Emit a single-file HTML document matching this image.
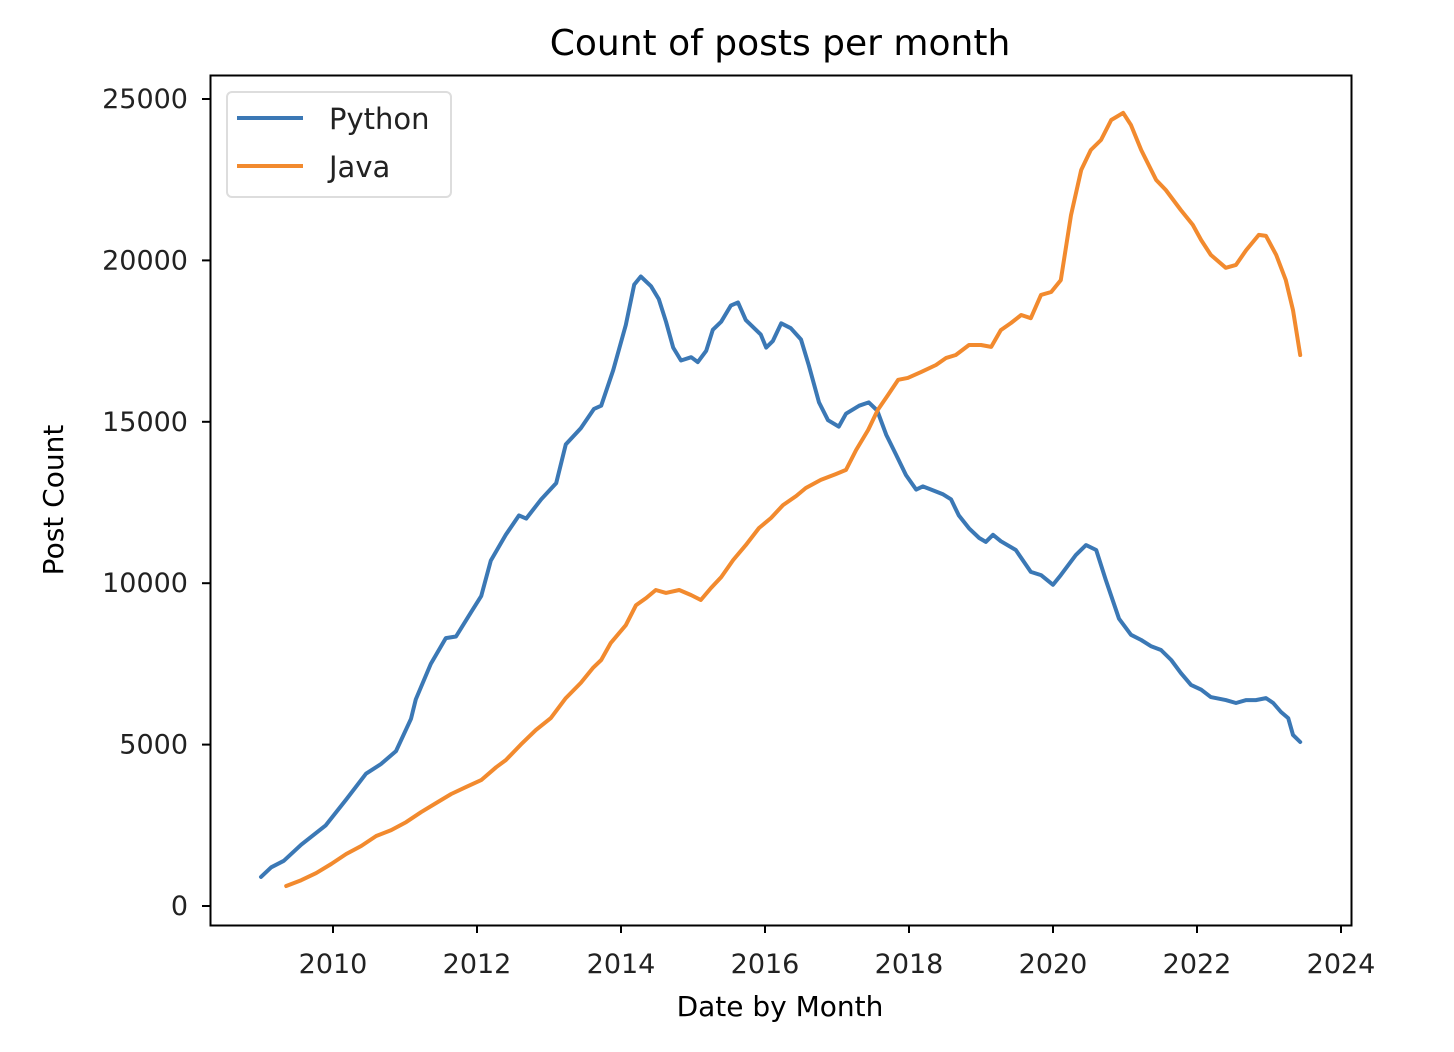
<!DOCTYPE html>
<html><head><meta charset="utf-8"><style>
html,body{margin:0;padding:0;background:#fff;}
svg{display:block;font-family:"DejaVu Sans","Liberation Sans",sans-serif;}
</style></head><body>
<svg id="chart" width="1454" height="1052" viewBox="0 0 1454 1052" xmlns="http://www.w3.org/2000/svg">
<text x="780" y="55" text-anchor="middle" font-size="36" fill="#000">Count of posts per month</text>
<g id="axes"></g>
<g id="series"></g>
<rect x="210.5" y="75.5" width="1141" height="850" fill="none" stroke="#000" stroke-width="2"/>
<text transform="translate(63,500) rotate(-90)" text-anchor="middle" font-size="28" fill="#000">Post Count</text>
<text x="780" y="1016" text-anchor="middle" font-size="28" fill="#000">Date by Month</text>
<g>
<rect x="227" y="92" width="224" height="105" rx="5" fill="#fff" stroke="#ddd" stroke-width="2"/>
<line x1="237" y1="118" x2="303" y2="118" stroke="#3b78b5" stroke-width="4"/>
<text x="329" y="129" font-size="29" fill="#222">Python</text>
<line x1="237" y1="166" x2="303" y2="166" stroke="#f28a2e" stroke-width="4"/>
<text x="329" y="177" font-size="29" fill="#222">Java</text>
</g>
</svg>
<script>
// months since Jan 2009
const pyMonths=[0,1.7,3.8,6.7,10.8,14.2,17.5,20,22.5,25,25.8,28.3,30.8,32.5,35,36.7,38.3,40.8,43,44.2,46.7,49.2,50.8,53.3,55.5,56.7,58.7,60.8,62.2,63.3,65,66.3,67.5,68.7,70,71.7,72.8,74.2,75.3,76.7,78.3,79.5,80.8,83.3,84.2,85.3,86.7,88.3,90,91.3,93,94.5,96.3,97.5,99.7,101.3,102.7,104.2,105.8,107.5,109.2,110.3,111.7,113.7,115,116.3,118,119.7,120.8,122,123.3,125.8,128.3,130,132,133.3,135.8,137.5,139.2,140.8,143,145,146.7,148.3,150,151.7,153.3,155,156.7,158.3,160.8,162.5,164.2,165.8,167.5,168.7,170,171.2,172,173.2];
const pyValues=[900,1200,1400,1900,2500,3300,4100,4400,4800,5800,6400,7500,8300,8350,9100,9600,10700,11500,12100,12000,12600,13100,14300,14800,15400,15500,16600,18000,19250,19500,19200,18800,18100,17300,16900,17000,16850,17200,17850,18100,18600,18700,18150,17700,17300,17500,18050,17900,17550,16750,15600,15050,14850,15250,15500,15600,15350,14600,14000,13350,12900,13000,12900,12750,12600,12100,11700,11400,11280,11500,11300,11030,10350,10250,9950,10250,10870,11180,11030,10100,8900,8400,8240,8050,7930,7620,7220,6850,6700,6470,6380,6290,6380,6380,6440,6290,6010,5820,5300,5080];
const javaMonths=[4.2,6.7,9.2,11.7,14.2,16.7,19.2,21.7,24.2,26.7,29.2,31.7,34.2,36.7,39.2,40.8,43.3,45.8,48.3,50.8,53.3,55.3,56.7,58.3,60.8,62.5,64.2,65.8,67.5,69.7,71.7,73.3,75,76.7,78.7,80.8,83,85,87,89.2,90.8,93.3,95.8,97.5,99.2,101.2,102.8,104.5,106.2,107.8,110,112.5,114.2,115.8,118,120,121.7,123.3,125,126.7,128.3,130,131.7,133.3,135,136.7,138.3,140,141.7,143.7,145,146.7,149.2,150.8,153.3,155.3,156.7,158.3,160.8,162.5,164.2,166.3,167.5,169.2,170.8,172,173.2];
const javaValues=[620,800,1020,1300,1610,1860,2170,2350,2600,2910,3190,3470,3690,3900,4300,4520,5000,5450,5820,6440,6910,7370,7620,8150,8700,9320,9540,9790,9700,9790,9630,9480,9850,10190,10720,11180,11710,12020,12420,12700,12950,13200,13380,13510,14130,14750,15370,15830,16300,16360,16540,16760,16980,17070,17380,17380,17320,17840,18060,18310,18210,18930,19020,19390,21400,22800,23420,23730,24350,24570,24190,23420,22490,22180,21560,21100,20630,20170,19770,19860,20320,20790,20760,20170,19390,18460,17070];
const xTickYears=[2010,2012,2014,2016,2018,2020,2022,2024];
const yTickValues=[0,5000,10000,15000,20000,25000];

const NS="http://www.w3.org/2000/svg";
function xYear(y){return 333+(y-2010)*72;}
function xMonth(m){return xYear(2009+m/12);}
function yScale(v){return 906-v*161.4/5000;}
function mk(tag,attrs,parent){const e=document.createElementNS(NS,tag);for(const k in attrs)e.setAttribute(k,attrs[k]);parent.appendChild(e);return e;}
const axes=document.getElementById('axes');
xTickYears.forEach(y=>{
  const t=mk('line',{x1:xYear(y),x2:xYear(y),y1:925,y2:933,stroke:'#000','stroke-width':2},axes);
  
  
  const l=mk('text',{x:xYear(y),y:973,'text-anchor':'middle','font-size':27,fill:'#222'},axes);
  
  
  l.textContent=y;
});
yTickValues.forEach(v=>{
  const t=mk('line',{x1:202,x2:210,y1:yScale(v),y2:yScale(v),stroke:'#000','stroke-width':2},axes);
  
  
  const l=mk('text',{x:188,y:yScale(v)+9,'text-anchor':'end','font-size':27,fill:'#222'},axes);
  
  
  l.textContent=v;
});
const series=document.getElementById('series');
function draw(ms,vs,color,name){
  const n=Math.min(ms.length,vs.length);
  let d='';
  for(let i=0;i<n;i++)d+=(i?'L':'M')+xMonth(ms[i]).toFixed(1)+','+yScale(vs[i]).toFixed(1);
  const p=mk('path',{d:d,fill:'none',stroke:color,'stroke-width':4,'stroke-linejoin':'round','stroke-linecap':'round'},series);
  
  
}
draw(pyMonths,pyValues,'#3b78b5','python-line');
draw(javaMonths,javaValues,'#f28a2e','java-line');
</script>
</body></html>
